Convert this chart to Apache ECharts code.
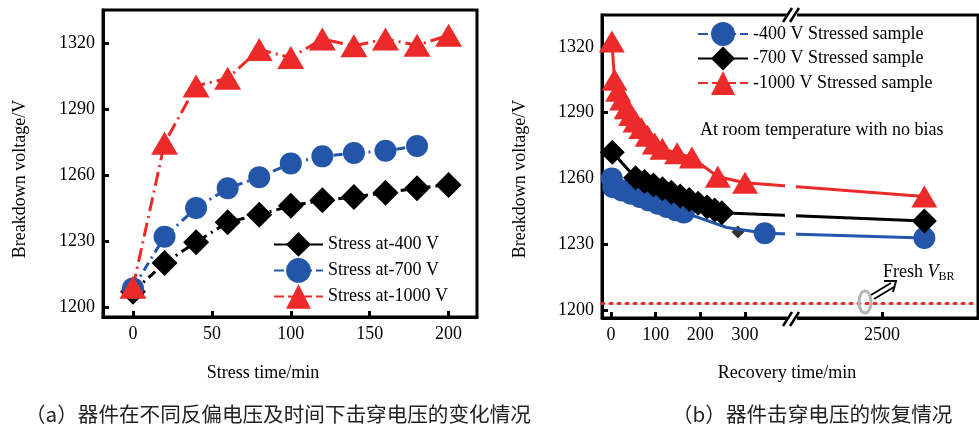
<!DOCTYPE html>
<html><head><meta charset="utf-8">
<script src="https://cdn.jsdelivr.net/npm/echarts@6/dist/echarts.min.js"></script>
<style>html,body{margin:0;padding:0;background:#fff}#c{width:979px;height:431px}</style>
</head><body><div id="c"></div>
<script>
// ---------- (a) stress data ----------
const stressTime = [0, 20, 40, 60, 80, 100, 120, 140, 160, 180, 200];
const stress400 = [1207, 1220, 1229.5, 1238.5, 1242, 1246, 1248.5, 1250, 1252, 1254, 1255.5];
const stressTime700 = [0, 20, 40, 60, 80, 100, 120, 140, 160, 180];
const stress700 = [1208.5, 1232, 1245, 1254, 1259, 1265.3, 1268.5, 1270, 1271, 1273.2];
const stress1000 = [1209, 1274.5, 1300.5, 1304, 1317, 1313.4, 1321.8, 1318.7, 1321.8, 1319, 1323.5];
const stressTicks = [0, 50, 100, 150, 200];
const voltTicks = [1200, 1230, 1260, 1290, 1320];

// ---------- (b) recovery data ----------
const recTime400 = [2, 5, 25, 45, 65, 85, 105, 125, 145, 163, 259, 344, 2595];
const rec400 = [1260, 1256, 1254.5, 1253, 1251.5, 1250, 1248.5, 1247, 1245.5, 1244.5, 1237.6, 1235, 1232.8];
const rec400Unmarked = [259];
const recTime700 = [3, 55, 75, 95, 115, 135, 155, 175, 195, 215, 232, 248, 2595];
const rec700 = [1272, 1260.3, 1258.6, 1257, 1255.3, 1253.7, 1252, 1250.4, 1248.7, 1247, 1245.6, 1244.3, 1240.6];
const recTime700Extra = [284];
const rec700Extra = [1235.6];
const recTime1000 = [2, 8, 16, 25, 35, 45, 55, 68, 82, 98, 115, 148, 181, 239, 300, 2595];
const rec1000 = [1322.5, 1305, 1300, 1296, 1292, 1289, 1286, 1283, 1279.5, 1276, 1273.5, 1271.5, 1269.6, 1260.8, 1258, 1251.8];
const recTicks = [0, 100, 200, 300, 2500];
const freshVBR = 1203;

const RED = '#ec2a2a', BLUE = '#2356a8', BLACK = '#000';
const SERIF = 'Liberation Serif';
const zip = (xs, ys) => xs.map((x, i) => [x, ys[i]]);

const axisCommon = (ticks) => ({
  type: 'value',
  axisLine: { show: true, onZero: false, lineStyle: { color: '#000', width: 3 } },
  axisTick: { show: true, inside: true, length: 6, customValues: ticks, lineStyle: { color: '#000', width: 3 } },
  axisLabel: {
    customValues: ticks, color: '#000', fontFamily: SERIF, fontSize: 18,
    formatter: (v) => String(v)
  },
  splitLine: { show: false }
});

const legendText = { fontFamily: SERIF, fontSize: 18, color: '#000' };

const chart = echarts.init(document.getElementById('c'), null, { renderer: 'canvas' });

const option = {
  animation: false,
  backgroundColor: '#fff',
  textStyle: { fontFamily: SERIF },
  grid: [
    { left: 103, top: 10, width: 374, height: 307, show: true, borderColor: '#000', borderWidth: 3, backgroundColor: 'transparent' },
    { left: 602, top: 15, width: 376, height: 303, show: true, borderColor: '#000', borderWidth: 3, backgroundColor: 'transparent' }
  ],
  xAxis: [
    Object.assign(axisCommon(stressTicks), { gridIndex: 0, min: -19, max: 218 }),
    Object.assign(axisCommon(recTicks), {
      gridIndex: 1, min: -20, max: 2715,
      breaks: [{ start: 407, end: 2301, gap: 0 }],
      breakArea: { show: false }
    })
  ],
  yAxis: [
    Object.assign(axisCommon(voltTicks), { gridIndex: 0, min: 1195.5, max: 1335 }),
    Object.assign(axisCommon(voltTicks), { gridIndex: 1, min: 1196.3, max: 1334.6 })
  ],
  legend: [
    {
      left: 273, top: 232, orient: 'vertical', padding: 0, itemWidth: 49, itemHeight: 31, itemGap: 1.2,
      textStyle: legendText,
      data: [
        { name: 'Stress at-400 V', lineStyle: { type: 'solid' } },
        { name: 'Stress at-700 V', lineStyle: { type: [10, 4] } },
        { name: 'Stress at-1000 V', lineStyle: { type: [10, 4] } }
      ]
    },
    {
      left: 697, top: 22, orient: 'vertical', padding: 0, itemWidth: 50, itemHeight: 30, itemGap: 0.5,
      textStyle: legendText,
      data: [
        { name: '-400 V Stressed sample', lineStyle: { type: [10, 4] } },
        { name: '-700 V Stressed sample', lineStyle: { type: 'solid' } },
        { name: '-1000 V Stressed sample', lineStyle: { type: [10, 4] } }
      ]
    }
  ],
  series: [
    {
      type: 'line', name: 'Stress at-400 V', xAxisIndex: 0, yAxisIndex: 0,
      data: zip(stressTime, stress400), symbol: 'diamond', symbolSize: 26,
      itemStyle: { color: BLACK }, lineStyle: { color: BLACK, width: 3, type: [9, 5, 2, 5] }
    },
    {
      type: 'line', name: 'Stress at-700 V', xAxisIndex: 0, yAxisIndex: 0,
      data: zip(stressTime700, stress700), symbol: 'circle', symbolSize: 22,
      itemStyle: { color: BLUE }, lineStyle: { color: BLUE, width: 3, type: [9, 5, 2, 5] }
    },
    {
      type: 'line', name: 'Stress at-1000 V', xAxisIndex: 0, yAxisIndex: 0,
      data: zip(stressTime, stress1000), symbol: 'triangle', symbolSize: [27, 23],
      itemStyle: { color: RED }, lineStyle: { color: RED, width: 3, type: [14, 5, 2, 5] }
    },
    {
      type: 'line', name: '-400 V Stressed sample', xAxisIndex: 1, yAxisIndex: 1,
      data: recTime400.map((t, i) => rec400Unmarked.includes(t) ? { value: [t, rec400[i]], symbol: 'none' } : [t, rec400[i]]),
      symbol: 'circle', symbolSize: 22,
      itemStyle: { color: BLUE }, lineStyle: { color: BLUE, width: 3 },
      markLine: {
        silent: true, symbol: 'none', label: { show: false },
        lineStyle: { color: RED, width: 3, type: [2, 6], cap: 'round' },
        data: [{ yAxis: freshVBR }]
      }
    },
    {
      type: 'line', name: '-700 V Stressed sample', xAxisIndex: 1, yAxisIndex: 1,
      data: zip(recTime700, rec700), symbol: 'diamond', symbolSize: 25,
      itemStyle: { color: BLACK }, lineStyle: { color: BLACK, width: 3 }
    },
    {
      type: 'scatter', name: '-700 V extra', xAxisIndex: 1, yAxisIndex: 1,
      data: zip(recTime700Extra, rec700Extra), symbol: 'diamond', symbolSize: 13,
      itemStyle: { color: BLACK }
    },
    {
      type: 'line', name: '-1000 V Stressed sample', xAxisIndex: 1, yAxisIndex: 1,
      data: zip(recTime1000, rec1000), symbol: 'triangle', symbolSize: [26, 22],
      itemStyle: { color: RED }, lineStyle: { color: RED, width: 3 }
    }
  ],
  graphic: [
    // axis titles
    { type: 'text', x: 263, y: 373, style: { text: 'Stress time/min', font: '18px "Liberation Serif"', fill: '#000', align: 'center', verticalAlign: 'middle' } },
    { type: 'text', x: 20, y: 179, rotation: Math.PI / 2, style: { text: 'Breakdown voltage/V', font: '18px "Liberation Serif"', fill: '#000', align: 'center', verticalAlign: 'middle' } },
    { type: 'text', x: 787, y: 373, style: { text: 'Recovery time/min', font: '18px "Liberation Serif"', fill: '#000', align: 'center', verticalAlign: 'middle' } },
    { type: 'text', x: 520, y: 179, rotation: Math.PI / 2, style: { text: 'Breakdown voltage/V', font: '18px "Liberation Serif"', fill: '#000', align: 'center', verticalAlign: 'middle' } },
    // annotation
    { type: 'text', x: 700, y: 130, style: { text: 'At room temperature with no bias', font: '18px "Liberation Serif"', fill: '#000', align: 'left', verticalAlign: 'middle' } },
    // gap in lines at the axis break
    { type: 'rect', shape: { x: 785, y: 140, width: 11, height: 110 }, style: { fill: '#fff' }, z: 50 },
    // break marks
    { type: 'rect', shape: { x: 787, y: 10, width: 10, height: 10 }, style: { fill: '#fff' }, z: 60 },
    { type: 'line', shape: { x1: 783, y1: 22, x2: 792, y2: 8 }, style: { stroke: '#000', lineWidth: 2.5 }, z: 61 },
    { type: 'line', shape: { x1: 790, y1: 22, x2: 799, y2: 8 }, style: { stroke: '#000', lineWidth: 2.5 }, z: 61 },
    { type: 'rect', shape: { x: 787, y: 313, width: 10, height: 10 }, style: { fill: '#fff' }, z: 60 },
    { type: 'line', shape: { x1: 783, y1: 326, x2: 792, y2: 312 }, style: { stroke: '#000', lineWidth: 2.5 }, z: 61 },
    { type: 'line', shape: { x1: 790, y1: 326, x2: 799, y2: 312 }, style: { stroke: '#000', lineWidth: 2.5 }, z: 61 },
    // fresh VBR marker
    { type: 'ellipse', shape: { cx: 865, cy: 302, rx: 6, ry: 11 }, style: { stroke: '#b5b5b5', lineWidth: 3, fill: null }, z: 62 },
    { type: 'line', shape: { x1: 871, y1: 295, x2: 891, y2: 283 }, style: { stroke: '#000', lineWidth: 2 }, z: 62 },
    { type: 'line', shape: { x1: 874, y1: 299, x2: 894, y2: 287 }, style: { stroke: '#000', lineWidth: 2 }, z: 62 },
    { type: 'polyline', shape: { points: [[884, 281], [896, 281], [893, 292]] }, style: { stroke: '#000', lineWidth: 2, fill: null }, z: 62 },
    {
      type: 'text', x: 883, y: 272, z: 62,
      style: {
        text: '{a|Fresh }{v|V}{s|BR}', verticalAlign: 'middle',
        rich: {
          a: { fontFamily: SERIF, fontSize: 18, fill: '#000' },
          v: { fontFamily: SERIF, fontSize: 18, fontStyle: 'italic', fill: '#000' },
          s: { fontFamily: SERIF, fontSize: 12, fill: '#000', padding: [9, 0, 0, 0] }
        }
      }
    },
    // captions
    { type: 'text', x: 25, y: 414, style: { text: '（a）器件在不同反偏电压及时间下击穿电压的变化情况', font: '20.6px "Noto Sans CJK SC"', fill: '#222', verticalAlign: 'middle' } },
    { type: 'text', x: 672, y: 414, style: { text: '（b）器件击穿电压的恢复情况', font: '20.6px "Noto Sans CJK SC"', fill: '#222', verticalAlign: 'middle' } }
  ]
};
chart.setOption(option);
</script></body></html>
